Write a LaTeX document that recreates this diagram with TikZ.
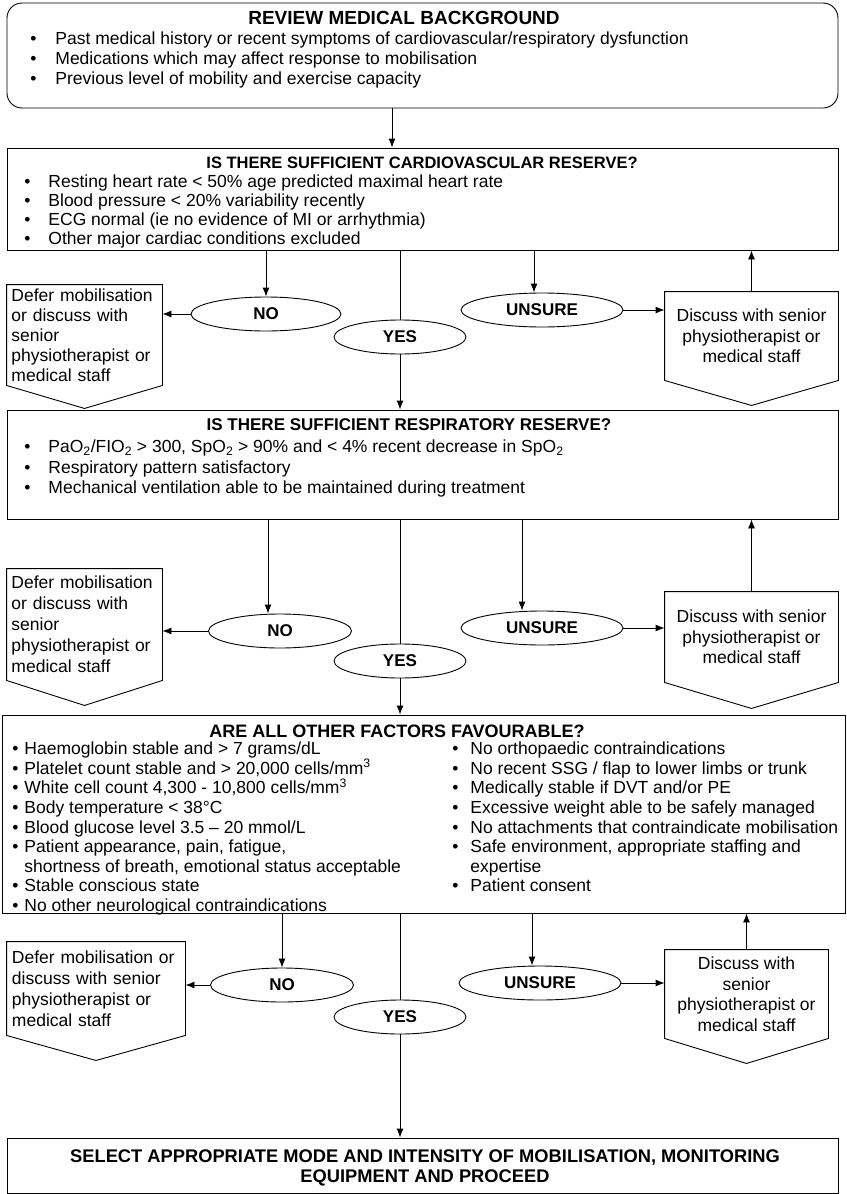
\documentclass[tikz,border=0pt]{standalone}
\usepackage{fontspec}
\setmainfont{Liberation Sans}
\usetikzlibrary{shapes.geometric,arrows.meta,calc}

% bullets for the lists
\newcommand{\bla}{\makebox[31pt][l]{\hspace{6pt}\textbullet}}
\newcommand{\blb}{\makebox[27pt][l]{\hspace{3pt}\textbullet}}
\newcommand{\blc}{\makebox[12pt][l]{\textbullet}}
\newcommand{\bld}{\makebox[18pt][l]{\textbullet}}
% outline of a box with a point at the bottom
\newcommand{\pointbox}[2]{\draw (#1.north west) -- (#1.north east) -- (#1.south east) -- ($(#1.south)+(0,#2)$) -- (#1.south west) -- cycle;}

\begin{document}
\begin{tikzpicture}[x=1pt,y=-1pt,line width=0.9pt,>={Latex[length=9pt,width=7pt]},
  every node/.style={inner sep=0pt},
  head/.style={font=\bfseries\fontsize{#1}{20}\selectfont},
  list/.style={font=\fontsize{17.5}{#1}\selectfont,align=left,anchor=north west},
  ans/.style={draw,ellipse,minimum height=34pt,font=\bfseries\fontsize{17}{20}\selectfont},
  defer/.style={font=\fontsize{17.5}{#1}\selectfont,align=left},
  discuss/.style={font=\fontsize{17.5}{20.5}\selectfont,align=center}]

\useasboundingbox (0,0) rectangle (846,1194);

% review
\node[draw,rounded corners=15pt,minimum width=831pt,minimum height=105pt] (bg) at (422.5,55.5) {};
\node[head=19] (bgt) at (404,18) {REVIEW MEDICAL BACKGROUND};
\node[list=20] (bgl) at (24,31.5) {\bla Past medical history or recent symptoms of cardiovascular/respiratory dysfunction\\
\bla Medications which may affect response to mobilisation\\
\bla Previous level of mobility and exercise capacity};

% cardiovascular reserve
\node[draw,minimum width=831pt,minimum height=102pt] (cv) at (422.5,199) {};
\node[head=16.5] (cvt) at (422,163) {IS THERE SUFFICIENT CARDIOVASCULAR RESERVE?};
\node[list=19] (cvl) at (21,174.5) {\blb Resting heart rate < 50\% age predicted maximal heart rate\\
\blb Blood pressure < 20\% variability recently\\
\blb ECG normal (ie no evidence of MI or arrhythmia)\\
\blb Other major cardiac conditions excluded};

\node[ans,minimum width=150pt] (no1) at (266,314) {NO};
\node[ans,minimum width=132pt] (yes1) at (400,337) {YES};
\node[ans,minimum width=162pt] (us1) at (542,310) {UNSURE};
\node[defer=20,minimum width=155pt,minimum height=100pt,text width=146pt] (df1) at (84.5,335) {Defer mobilisation\\or discuss with\\senior\\physiotherapist or\\medical staff};
\pointbox{df1}{23}
\node[discuss,minimum width=173pt,minimum height=88pt] (ds1) at (751.5,336) {Discuss with senior\\physiotherapist or\\medical staff};
\pointbox{ds1}{25}

% respiratory reserve
\node[draw,minimum width=831pt,minimum height=109pt] (rr) at (422.5,464.5) {};
\node[head=17] (rrt) at (409,425) {IS THERE SUFFICIENT RESPIRATORY RESERVE?};
\node[list=20.5] (rrl) at (21,439.5) {\blb PaO\textsubscript{2}/FIO\textsubscript{2} > 300, SpO\textsubscript{2} > 90\% and < 4\% recent decrease in SpO\textsubscript{2}\\
\blb Respiratory pattern satisfactory\\
\blb Mechanical ventilation able to be maintained during treatment};

\node[ans,minimum width=143pt] (no2) at (280,631) {NO};
\node[ans,minimum width=132pt] (yes2) at (400,661) {YES};
\node[ans,minimum width=162pt] (us2) at (542,628) {UNSURE};
\node[defer=21,minimum width=155pt,minimum height=111pt,text width=146pt] (df2) at (84.5,624.5) {Defer mobilisation\\or discuss with\\senior\\physiotherapist or\\medical staff};
\pointbox{df2}{25}
\node[discuss,minimum width=173pt,minimum height=90pt] (ds2) at (751.5,637) {Discuss with senior\\physiotherapist or\\medical staff};
\pointbox{ds2}{26}

% other factors
\node[draw,minimum width=843pt,minimum height=198pt] (of) at (423.5,814) {};
\node[head=18] (oft) at (397,731) {ARE ALL OTHER FACTORS FAVOURABLE?};
\node[list=19.6] (ofl) at (12,741.5) {\blc Haemoglobin stable and > 7 grams/dL\\
\blc Platelet count stable and > 20,000 cells/mm\textsuperscript{3}\\
\blc White cell count 4,300 - 10,800 cells/mm\textsuperscript{3}\\
\blc Body temperature < 38°C\\
\blc Blood glucose level 3.5 -- 20 mmol/L\\
\blc Patient appearance, pain, fatigue,\\
\makebox[12pt]{}shortness of breath, emotional status acceptable\\
\blc Stable conscious state\\
\blc No other neurological contraindications};
\node[list=19.6] (ofr) at (452,741.5) {\bld No orthopaedic contraindications\\
\bld No recent SSG / flap to lower limbs or trunk\\
\bld Medically stable if DVT and/or PE\\
\bld Excessive weight able to be safely managed\\
\bld No attachments that contraindicate mobilisation\\
\bld Safe environment, appropriate staffing and\\
\makebox[18pt]{}expertise\\
\bld Patient consent};

\node[ans,minimum width=143pt] (no3) at (282,985) {NO};
\node[ans,minimum width=132pt] (yes3) at (400,1017) {YES};
\node[ans,minimum width=162pt] (us3) at (540,983) {UNSURE};
\node[defer=21,minimum width=178pt,minimum height=93pt,text width=168pt] (df3) at (96,988.5) {Defer mobilisation or\\discuss with senior\\physiotherapist or\\medical staff};
\pointbox{df3}{25}
\node[discuss,minimum width=163pt,minimum height=88pt] (ds3) at (746.5,994) {Discuss with\\senior\\physiotherapist or\\medical staff};
\pointbox{ds3}{25}

% select
\node[draw,minimum width=831pt,minimum height=55pt] (sel) at (422.5,1165.5) {};
\node[head=18.3,align=center] (selt) at (425,1168) {SELECT APPROPRIATE MODE AND INTENSITY OF MOBILISATION, MONITORING\\EQUIPMENT AND PROCEED};

% connectors
\coordinate (top) at (392,0);
\draw[->] (bg.south -| top) -- (cv.north -| top);

\draw[->] (cv.south -| no1) -- (no1.north);
\draw (cv.south -| yes1) -- (yes1.north);
\draw[->] ($(cv.south -| us1)+(-8,0)$) -- ($(us1.north)+(-8,0)$);
\draw[->] (no1.west) -- (no1.west -| df1.east);
\draw[->] (us1.east) -- (us1.east -| ds1.west);
\draw[->] (ds1.north) -- (ds1.north |- cv.south);
\draw[->] (yes1.south) -- (yes1.south |- rr.north);

\draw[->] ($(rr.south -| no2)+(-12,0)$) -- ($(no2.north)+(-12,0)$);
\draw (rr.south -| yes2) -- (yes2.north);
\draw[->] ($(rr.south -| us2)+(-20,0)$) -- ($(us2.north)+(-20,0)$);
\draw[->] (no2.west) -- (no2.west -| df2.east);
\draw[->] (us2.east) -- (us2.east -| ds2.west);
\draw[->] (ds2.north) -- (ds2.north |- rr.south);
\draw[->] (yes2.south) -- (yes2.south |- of.north);

\draw[->] (of.south -| no3) -- (no3.north);
\draw (of.south -| yes3) -- (yes3.north);
\draw[->] ($(of.south -| us3)+(-8,0)$) -- ($(us3.north)+(-8,0)$);
\draw[->] (no3.west) -- (no3.west -| df3.east);
\draw[->] (us3.east) -- (us3.east -| ds3.west);
\draw[->] (ds3.north) -- (ds3.north |- of.south);
\draw[->] (yes3.south) -- (yes3.south |- sel.north);

\end{tikzpicture}
\end{document}
